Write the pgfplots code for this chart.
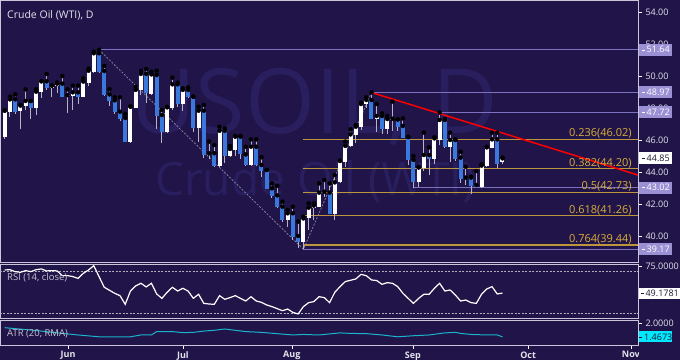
\documentclass[border=0pt]{standalone}
\usepackage{pgfplots}
\pgfplotsset{compat=1.18}
\usepackage{pgfplotstable}
\usepackage{fontspec}
\setmainfont{Open Sans}
\definecolor{bgc}{HTML}{201448}
\definecolor{wm}{HTML}{2A1F5E}
\definecolor{framec}{HTML}{C8C6D8}
\definecolor{candleblue}{HTML}{3A78DC}
\definecolor{wick}{HTML}{B4B4C4}
\definecolor{lev}{HTML}{7C70C0}
\definecolor{levbox}{HTML}{9C90D4}
\definecolor{fib}{HTML}{BC953C}
\definecolor{fibtxt}{HTML}{DAAE3A}
\definecolor{dashc}{HTML}{8C8AA4}
\definecolor{atrc}{HTML}{1CB4CC}
\definecolor{atrbox}{HTML}{00E8FF}
\definecolor{txt}{HTML}{E4E4EC}
\definecolor{darktxt}{HTML}{1A1A30}

\pgfplotstableread{
i o h l c
1 46.17 47.85 46.08 47.83
2 47.77 48.71 47.46 48.54
4 47.79 48.19 46.67 48.15
5 48.13 49.17 47.88 48.44
7 48.00 49.17 47.56 49.02
8 49.00 49.67 48.60 49.67
10 49.27 49.40 48.67 49.40
11 49.40 49.60 48.96 49.52
13 48.73 49.17 47.67 48.81
14 48.77 49.40 47.88 48.98
16 48.71 49.85 48.67 49.65
17 49.58 50.46 49.38 50.33
18 50.27 51.52 50.21 51.42
25 45.90 48.10 45.80 48.08
26 48.00 49.33 47.98 49.13
27 49.13 50.33 48.81 50.13
29 48.88 50.27 48.81 50.10
32 46.48 48.08 46.42 48.04
33 48.00 49.90 47.88 49.48
35 48.25 49.23 47.83 49.13
38 46.73 48.08 45.90 47.83
40 45.06 45.90 44.79 45.17
42 44.38 46.83 44.33 46.58
44 45.00 45.63 44.92 45.44
45 45.38 46.25 45.00 46.21
48 44.44 46.04 44.38 45.58
55 41.00 41.63 40.54 41.42
58 39.65 41.21 39.17 41.10
59 41.10 42.04 40.38 41.77
60 41.77 42.04 41.00 41.90
61 41.83 43.29 41.83 42.71
64 41.38 43.81 41.00 43.35
65 43.35 44.71 43.29 44.69
66 44.65 45.90 44.33 45.63
67 45.63 46.67 45.58 46.35
68 46.33 46.94 45.79 46.83
69 46.79 48.33 46.63 48.25
70 48.25 48.67 47.98 48.50
72 47.31 48.25 46.52 47.50
74 46.67 47.50 46.35 47.31
75 47.25 48.40 46.58 47.33
80 43.40 44.29 43.08 44.29
81 44.23 46.46 44.08 45.06
83 44.79 46.17 44.50 46.10
84 46.00 47.72 45.69 47.25
86 45.54 46.46 44.65 46.00
89 43.54 44.33 43.19 43.65
92 43.08 44.48 43.02 44.40
93 44.35 45.58 44.33 45.54
94 45.48 46.46 45.48 46.04
96 44.60 44.90 44.50 44.85
}\up

\pgfplotstableread{
i o h l c
3 48.54 48.85 47.63 47.77
6 48.44 48.44 47.33 48.00
9 49.67 50.13 49.13 49.27
12 49.52 50.00 48.71 48.71
15 48.98 49.40 48.25 48.71
19 51.42 51.64 50.17 50.27
20 50.31 50.63 48.77 48.81
21 48.85 49.17 48.13 48.44
22 48.48 48.67 47.63 47.73
23 47.77 48.67 47.21 47.33
24 47.38 47.63 45.90 45.90
28 50.13 50.44 48.33 48.92
30 50.06 50.33 46.67 47.52
31 47.56 47.88 45.79 46.48
34 49.48 49.58 48.08 48.25
36 49.13 49.29 48.60 48.67
37 48.71 48.71 46.52 46.73
39 47.83 48.19 44.85 45.06
41 45.17 45.69 44.33 44.38
43 46.58 46.73 44.54 45.00
46 46.21 46.25 44.79 45.10
47 45.10 45.58 44.38 44.44
49 45.58 46.04 44.38 44.44
50 44.44 44.92 43.71 44.08
51 44.13 44.13 42.92 42.94
52 42.98 43.29 42.35 42.50
53 42.54 43.13 41.73 41.79
54 41.83 42.15 40.90 41.00
56 41.42 41.83 39.75 39.96
57 40.00 40.90 39.23 39.65
62 42.77 43.50 42.46 42.67
63 42.71 43.29 41.38 41.38
71 48.50 48.97 47.29 47.31
73 47.50 47.67 46.35 46.67
76 47.29 47.29 46.58 46.83
77 46.88 47.35 46.10 46.15
78 46.19 46.19 44.44 44.75
79 44.75 45.00 43.02 43.40
82 45.06 45.54 43.81 44.79
85 47.25 47.31 45.48 45.54
87 46.00 46.04 44.71 44.79
88 44.90 45.27 43.33 43.54
90 43.65 43.71 42.63 43.15
91 43.19 44.06 43.08 43.08
95 46.04 46.46 44.23 44.50
}\dn

\pgfplotstableread{
i r
1 71.2
2 71.5
3 69.6
4 69.0
5 70.6
6 69.6
7 71.5
8 72.2
9 70.3
10 70.6
11 70.3
12 65.8
13 65.8
14 64.9
15 63.2
16 68.0
17 71.2
18 75.3
19 64.9
20 54.7
21 51.8
22 48.9
23 46.7
24 38.4
25 51.1
26 56.0
27 58.5
28 55.0
29 58.5
30 48.3
31 44.1
32 49.9
33 54.7
34 51.1
35 53.7
36 51.1
37 44.1
38 48.0
39 39.3
40 38.7
41 38.4
42 46.7
43 43.2
44 44.8
45 46.7
46 44.1
47 41.6
48 45.7
49 41.6
50 40.3
51 37.8
52 36.2
53 34.3
54 32.3
55 33.9
56 30.7
57 29.2
58 36.2
59 40.0
60 41.0
61 45.7
62 44.8
63 40.0
64 49.9
65 55.3
66 60.1
67 61.4
68 62.6
69 67.0
70 65.8
71 61.7
72 61.1
73 57.5
74 59.1
75 58.5
76 55.3
77 48.9
78 44.1
79 39.3
80 44.1
81 48.0
82 48.0
83 53.7
84 58.5
85 51.1
86 52.1
87 47.3
88 41.6
89 42.5
90 40.0
91 39.3
92 48.0
93 53.1
94 55.3
95 48.3
96 49.18
}\rsi

\pgfplotstableread{
i a
1 1.82
7 1.71
12 1.60
15 1.54
19 1.47
25 1.47
27 1.54
29 1.54
30 1.67
33 1.67
35 1.63
37 1.64
39 1.69
41 1.72
43 1.77
45 1.72
47 1.67
50 1.64
53 1.59
56 1.54
58 1.56
61 1.54
63 1.58
65 1.62
67 1.60
70 1.59
73 1.54
76 1.47
79 1.51
82 1.54
85 1.62
87 1.64
88 1.60
90 1.56
93 1.54
95 1.54
96 1.4673
}\atr

\pgfplotsset{panel/.style={
  scale only axis, width=638pt, xmin=0.103, xmax=121.86,
  axis line style={draw=framec, line width=0.8pt},
  xtick=\empty, ytick pos=right, yticklabel pos=right,
  tick align=outside, major tick length=4pt,
  tick style={draw=white, line width=0.6pt},
  yticklabel style={font=\fontsize{9}{10}\selectfont, text=txt},
  /pgf/number format/assume math mode=true,
}}
\tikzset{lbox/.style={fill=levbox, text=white, font=\fontsize{9}{10}\selectfont, anchor=west, minimum height=12pt, minimum width=33pt, inner sep=0pt}}

\begin{document}
\begin{tikzpicture}
\fill[bgc] (0,0) rectangle (680pt,-360pt);
\useasboundingbox (0,0) rectangle (680pt,-360pt);
% watermark
\node[anchor=base west, inner sep=0pt, text=wm, font=\fontsize{90}{90}\selectfont] at (130pt,-133pt) {USOIL, D};
\node[anchor=base west, inner sep=0pt, text=wm, font=\fontsize{46}{46}\selectfont] at (155pt,-195pt) {Crude Oil (WTI)};

\begin{axis}[panel, at={(0pt,0pt)}, anchor=north west, height=262pt,
  ymin=38.375, ymax=54.75, ytick={40,42,...,54},
  yticklabel={\pgfmathprintnumber[fixed,fixed zerofill,precision=2]{\tick}}]
% fib lines
\addplot[fib, line width=1.1pt] coordinates {(58,46.02) (121.86,46.02)};
\addplot[fib, line width=1.1pt] coordinates {(58,44.20) (121.86,44.20)};
\addplot[fib, line width=1.1pt] coordinates {(58,42.73) (121.86,42.73)};
\addplot[fib, line width=1.1pt] coordinates {(58,41.26) (121.86,41.26)};
\addplot[fib, line width=1.1pt] coordinates {(58,39.44) (121.86,39.44)};
% levels
\addplot[lev, line width=1.1pt] coordinates {(19,51.64) (121.86,51.64)};
\addplot[lev, line width=1.1pt] coordinates {(71,48.97) (121.86,48.97)};
\addplot[lev, line width=1.1pt] coordinates {(84,47.72) (121.86,47.72)};
\addplot[lev, line width=1.1pt] coordinates {(79,43.02) (121.86,43.02)};
\addplot[lev, line width=1.1pt] coordinates {(58,39.17) (121.86,39.17)};
% diagonals
\addplot[dashc, line width=0.7pt, dash pattern=on 2pt off 1.5pt] coordinates {(19,51.64) (58,39.17) (71,48.97)};
% wicks
\addplot[only marks, mark=none, error bars/.cd, y dir=both, y explicit, error mark=none,
  error bar style={draw=wick, line width=0.9pt}]
  table[x=i, y=h, y error plus expr=0, y error minus expr=\thisrow{h}-\thisrow{l}] {\up};
\addplot[only marks, mark=none, error bars/.cd, y dir=both, y explicit, error mark=none,
  error bar style={draw=wick, line width=0.9pt}]
  table[x=i, y=h, y error plus expr=0, y error minus expr=\thisrow{h}-\thisrow{l}] {\dn};
% bodies
\addplot[only marks, mark=none, error bars/.cd, y dir=both, y explicit, error mark=none,
  error bar style={draw=white, line width=4pt}]
  table[x=i, y=c, y error plus expr=0, y error minus expr={max(\thisrow{c}-\thisrow{o},0.07)}] {\up};
\addplot[only marks, mark=none, error bars/.cd, y dir=both, y explicit, error mark=none,
  error bar style={draw=candleblue, line width=4pt}]
  table[x=i, y=o, y error plus expr=0, y error minus expr={max(\thisrow{o}-\thisrow{c},0.07)}] {\dn};
% trend line
\addplot[red, line width=1.5pt] coordinates {(71,48.97) (121.86,43.81)};
% fib labels
\node[anchor=base east, inner sep=0pt, yshift=2.8pt, text=fibtxt, font=\fontsize{11}{12}\selectfont] at (axis cs:120.7,46.02) {0.236(46.02)};
\node[anchor=base east, inner sep=0pt, yshift=2.8pt, text=fibtxt, font=\fontsize{11}{12}\selectfont] at (axis cs:120.7,44.20) {0.382(44.20)};
\node[anchor=base east, inner sep=0pt, yshift=2.8pt, text=fibtxt, font=\fontsize{11}{12}\selectfont] at (axis cs:120.7,42.73) {0.5(42.73)};
\node[anchor=base east, inner sep=0pt, yshift=2.8pt, text=fibtxt, font=\fontsize{11}{12}\selectfont] at (axis cs:120.7,41.26) {0.618(41.26)};
\node[anchor=base east, inner sep=0pt, yshift=2.8pt, text=fibtxt, font=\fontsize{11}{12}\selectfont] at (axis cs:120.7,39.44) {0.764(39.44)};
\coordinate (c5164) at (axis cs:121.86,51.64);
\coordinate (c4897) at (axis cs:121.86,48.97);
\coordinate (c4772) at (axis cs:121.86,47.72);
\coordinate (c4485) at (axis cs:121.86,44.85);
\coordinate (c4302) at (axis cs:121.86,43.02);
\coordinate (c3917) at (axis cs:121.86,39.17);
\end{axis}

\begin{axis}[panel, at={(0pt,-264.5pt)}, anchor=north west, height=53.8pt,
  ymin=25.05, ymax=76.43, ytick={75},
  yticklabel={\pgfmathprintnumber[fixed,fixed zerofill,precision=4]{\tick}}]
\addplot[framec!85!bgc, line width=0.6pt, dash pattern=on 2pt off 1.5pt] coordinates {(0.103,70) (121.86,70)};
\addplot[framec!85!bgc, line width=0.6pt, dash pattern=on 2pt off 1.5pt] coordinates {(0.103,30) (121.86,30)};
\addplot[white, line width=1.2pt] table[x=i, y=r] {\rsi};
\coordinate (crsi) at (axis cs:121.86,49.18);
\end{axis}

\begin{axis}[panel, at={(0pt,-320pt)}, anchor=north west, height=25pt,
  ymin=1.154, ymax=2.115, ytick={2},
  yticklabel={\pgfmathprintnumber[fixed,fixed zerofill,precision=4]{\tick}},
  xtick={13.1,35,55.8,78.9,100.9,120.5},
  xticklabels={Jun,Jul,Aug,Sep,Oct,Nov},
  xtick pos=bottom, xticklabel pos=bottom,
  xticklabel style={font=\bfseries\fontsize{9}{10}\selectfont, text=txt, yshift=1pt}]
\addplot[atrc, line width=1pt] table[x=i, y=a] {\atr};
\coordinate (catr) at (axis cs:121.86,1.4673);
\end{axis}

\fill[bgc] (638.6pt,-346.5pt) rectangle (680pt,-360pt);

% right-side boxes
\node[lbox] at ([xshift=1pt]c5164) {\rule[2.8pt]{3pt}{0.6pt}\hspace{2pt}51.64};
\node[lbox] at ([xshift=1pt]c4897) {\rule[2.8pt]{3pt}{0.6pt}\hspace{2pt}48.97};
\node[lbox] at ([xshift=1pt]c4772) {\rule[2.8pt]{3pt}{0.6pt}\hspace{2pt}47.72};
\node[lbox] at ([xshift=1pt]c4302) {\rule[2.8pt]{3pt}{0.6pt}\hspace{2pt}43.02};
\node[lbox] at ([xshift=1pt]c3917) {\rule[2.8pt]{3pt}{0.6pt}\hspace{2pt}39.17};
\node[lbox, fill=white, text=darktxt] at ([xshift=1pt]c4485) {\rule[2.8pt]{3pt}{0.6pt}\hspace{2pt}44.85};
\node[lbox, fill=white, text=darktxt, minimum width=41pt, minimum height=11pt] at ([xshift=1pt]crsi) {\rule[2.8pt]{3pt}{0.6pt}\hspace{2pt}49.1781};
\node[lbox, fill=atrbox, text=darktxt, minimum height=11pt] at ([xshift=1pt]catr) {\rule[2.8pt]{3pt}{0.6pt}\hspace{2pt}1.4673};

% labels
\node[anchor=west, inner sep=0pt, text=txt, font=\fontsize{10.5}{12}\selectfont] at (7pt,-15pt) {Crude Oil (WTI), D};
\node[anchor=west, inner sep=0pt, text=txt!85!bgc, font=\fontsize{9.5}{11}\selectfont] at (7pt,-278pt) {RSI (14, close)};
\node[anchor=west, inner sep=0pt, text=txt!85!bgc, font=\fontsize{9.5}{11}\selectfont] at (7pt,-334pt) {ATR (20, RMA)};
\end{tikzpicture}
\end{document}
